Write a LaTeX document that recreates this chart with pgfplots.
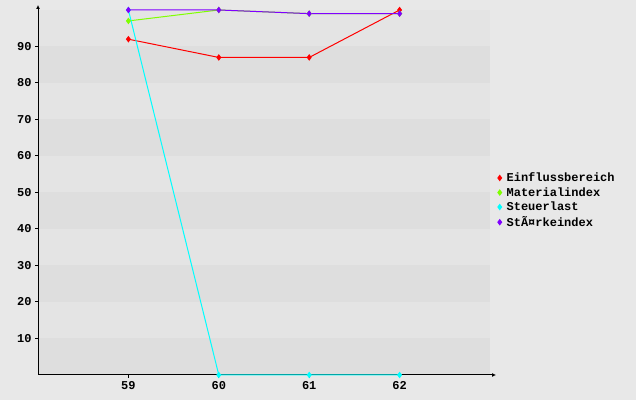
\documentclass[border=0pt]{standalone}
\usepackage{pgfplots}
\pgfplotsset{compat=1.18}
\usetikzlibrary{arrows.meta}
\usepackage{fontspec}
\setmainfont{Liberation Mono}
\definecolor{bgout}{RGB}{232,232,232}
\definecolor{bandlight}{RGB}{228,228,228}
\definecolor{banddark}{RGB}{222,222,222}
\definecolor{cRed}{RGB}{255,0,0}
\definecolor{cGreen}{RGB}{128,255,0}
\definecolor{cCyan}{RGB}{0,255,255}
\definecolor{cPurple}{RGB}{128,0,255}
\begin{document}
\begin{tikzpicture}[x=1pt,y=1pt]
\begin{axis}[
  set layers=standard,
  at={(38pt,25pt)}, anchor=south west,
  scale only axis, width=452pt, height=365pt,
  xmin=58, xmax=63, ymin=0, ymax=100,
  axis lines=left,
  axis line style={black, line width=1pt},
  every outer x axis line/.append style={-{Latex[length=4pt,width=4pt]}, shorten >=-6pt},
  every outer y axis line/.append style={-{Latex[length=4pt,width=4pt]}, shorten >=-5pt},
  xtick={59,60,61,62},
  ytick={10,20,...,90},
  tick align=outside,
  major tick length=3pt,
  tick style={black, line width=1pt},
  font=\fontsize{12}{13}\selectfont\bfseries,
  /pgf/number format/assume math mode=true,
  tick label style={font=\fontsize{12}{13}\selectfont\bfseries},
  clip=false,
  legend style={at={(rel axis cs:1.017,0.56)}, anchor=north west, draw=none, fill=none,
    font=\fontsize{12}{13}\selectfont\bfseries, row sep=0.3pt, inner sep=0pt,
    /tikz/every odd column/.append style={column sep=3pt}},
  legend cell align=left,
  legend image code/.code={\path[#1] plot coordinates {(0.1cm,0cm)};},
  every axis plot/.append style={line width=1pt, mark=diamond*, mark size=2.5pt},
]
\begin{pgfonlayer}{axis background}
\fill[bgout] (rel axis cs:-0.084071,-0.068493) rectangle (rel axis cs:1.323009,1.027397);
\fill[banddark] (axis cs:58,0) rectangle (axis cs:63,10);
\fill[bandlight] (axis cs:58,10) rectangle (axis cs:63,20);
\fill[banddark] (axis cs:58,20) rectangle (axis cs:63,30);
\fill[bandlight] (axis cs:58,30) rectangle (axis cs:63,40);
\fill[banddark] (axis cs:58,40) rectangle (axis cs:63,50);
\fill[bandlight] (axis cs:58,50) rectangle (axis cs:63,60);
\fill[banddark] (axis cs:58,60) rectangle (axis cs:63,70);
\fill[bandlight] (axis cs:58,70) rectangle (axis cs:63,80);
\fill[banddark] (axis cs:58,80) rectangle (axis cs:63,90);
\fill[bandlight] (axis cs:58,90) rectangle (axis cs:63,100);
\end{pgfonlayer}
\addplot[cRed, mark options={fill=cRed}] coordinates {(59,92) (60,87) (61,87) (62,100)};
\addlegendentry{Einflussbereich}
\addplot[cGreen, mark options={fill=cGreen}] coordinates {(59,97) (60,100) (61,99) (62,99)};
\addlegendentry{Materialindex}
\addplot[cCyan, mark options={fill=cCyan}] coordinates {(59,100) (60,0) (61,0) (62,0)};
\addlegendentry{Steuerlast}
\addplot[cPurple, mark options={fill=cPurple}] coordinates {(59,100) (60,100) (61,99) (62,99)};
\addlegendentry{StÃ¤rkeindex}
\end{axis}
\end{tikzpicture}
\end{document}
